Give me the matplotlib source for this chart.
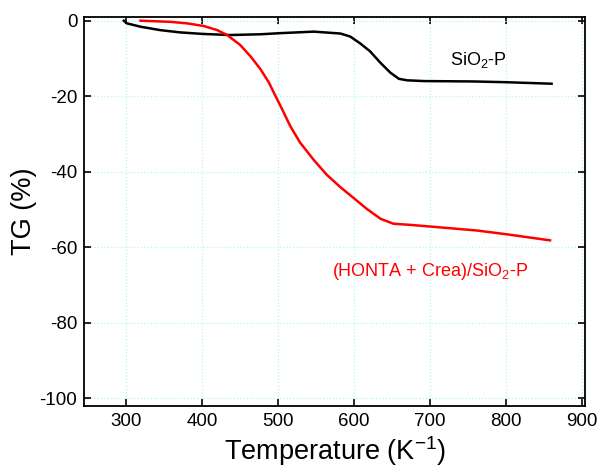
import matplotlib
matplotlib.use("Agg")
import matplotlib.pyplot as plt

plt.rcParams['font.family'] = ['Liberation Sans', 'DejaVu Sans']
plt.rcParams['mathtext.fontset'] = 'custom'
plt.rcParams['mathtext.rm'] = 'Liberation Sans'
plt.rcParams['mathtext.it'] = 'Liberation Sans:italic'
plt.rcParams['axes.unicode_minus'] = False

# SiO2-P curve (temperature, TG %)
sio2_t = [297, 301, 319, 345, 371, 400, 437, 477, 503, 547, 582, 595, 608,
          621, 635, 648, 659, 670, 692, 757, 800, 860]
sio2_tg = [0.0, -0.7, -1.6, -2.5, -3.1, -3.5, -3.8, -3.6, -3.3, -2.9, -3.4,
           -4.2, -6.0, -8.1, -11.2, -13.8, -15.4, -15.8, -16.0, -16.1, -16.3,
           -16.7]

# (HONTA + Crea)/SiO2-P curve
hc_t = [319, 358, 380, 402, 420, 433, 450, 464, 477, 488, 496, 505, 516,
        529, 547, 564, 582, 599, 617, 635, 652, 674, 698, 762, 801, 858]
hc_tg = [0.0, -0.3, -0.7, -1.4, -2.5, -3.8, -6.4, -9.5, -12.9, -16.4, -19.7,
         -23.3, -27.9, -32.3, -36.9, -40.8, -44.1, -46.9, -49.9, -52.5,
         -53.8, -54.1, -54.5, -55.6, -56.6, -58.2]

x_ticks = [300, 400, 500, 600, 700, 800, 900]
y_ticks = [0, -20, -40, -60, -80, -100]

fig = plt.figure(figsize=(6, 4.75), dpi=100)
ax = fig.add_axes([0.1405, 0.146, 0.8345, 0.8176])

ax.plot(sio2_t, sio2_tg, color='black', lw=1.8)
ax.plot(hc_t, hc_tg, color='#ff0000', lw=1.8)

ax.set_xlim(245, 904)
ax.set_ylim(-102, 0.9)
ax.set_xticks(x_ticks)
ax.set_yticks(y_ticks)
ax.grid(True, color='#b8f4f4', linestyle=':', linewidth=0.9)
ax.set_axisbelow(True)

ax.tick_params(direction='in', top=True, right=True, length=5, width=1.2,
               labelsize=13.5, pad=5)
for s in ax.spines.values():
    s.set_linewidth(1.3)

ax.set_xlabel(r'Temperature (K$^{\mathregular{-1}}$)', fontsize=19.5, labelpad=3)
ax.set_ylabel('TG (%)', fontsize=19.5, labelpad=2)

ax.text(763, -10.4, r'SiO$_2$-P', fontsize=13, ha='center', va='center',
        color='black')
ax.text(700, -66.5, r'(HONTA + Crea)/SiO$_2$-P', fontsize=13, ha='center',
        va='center', color='#ff0000')

fig.savefig('out.png', dpi=100)
